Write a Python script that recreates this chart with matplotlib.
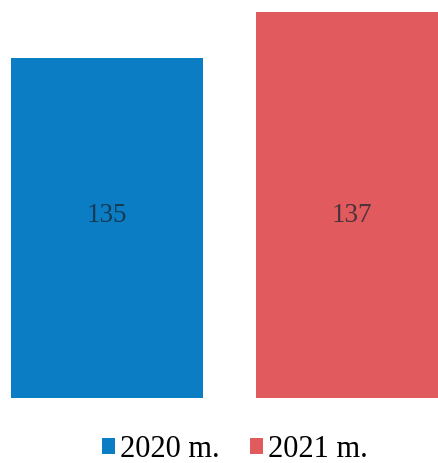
import matplotlib
matplotlib.use("Agg")
import matplotlib.pyplot as plt
from matplotlib.patches import Patch

years = ["2020 m.", "2021 m."]
values = [135, 137]
colors = ["#0A7DC4", "#E05A5E"]

plt.rcParams["font.family"] = ["Liberation Serif", "DejaVu Serif"]

fig = plt.figure(figsize=(4.39, 4.64), dpi=100)
ax = fig.add_axes([0, 65 / 464, 1, 399 / 464])

width = 0.784
xs = list(range(len(values)))
bars = ax.bar(xs, values, width=width, color=colors, bottom=0)

y0 = 120.2
ax.set_ylim(y0, y0 + 399 / 23)
ax.set_xlim(-width / 2 - 11 / 245, -width / 2 - 11 / 245 + 439 / 245)

# value labels sit at a common height inside the bars
for x, v in zip(xs, values):
    ax.text(x, 0.459, str(v), ha="center", va="center",
            transform=ax.get_xaxis_transform(),
            fontsize=19.5, color="#1a2530", alpha=0.75)

ax.axis("off")

handles = [Patch(facecolor=c, edgecolor="none") for c in colors]
fig.legend(handles, years, loc="center", bbox_to_anchor=(0.535, 14 / 464),
           ncol=2, frameon=False, fontsize=22, handlelength=0.43,
           handleheight=0.43, handletextpad=0.15, columnspacing=1.0,
           borderpad=0, borderaxespad=0)

fig.savefig("out.png", dpi=100)
